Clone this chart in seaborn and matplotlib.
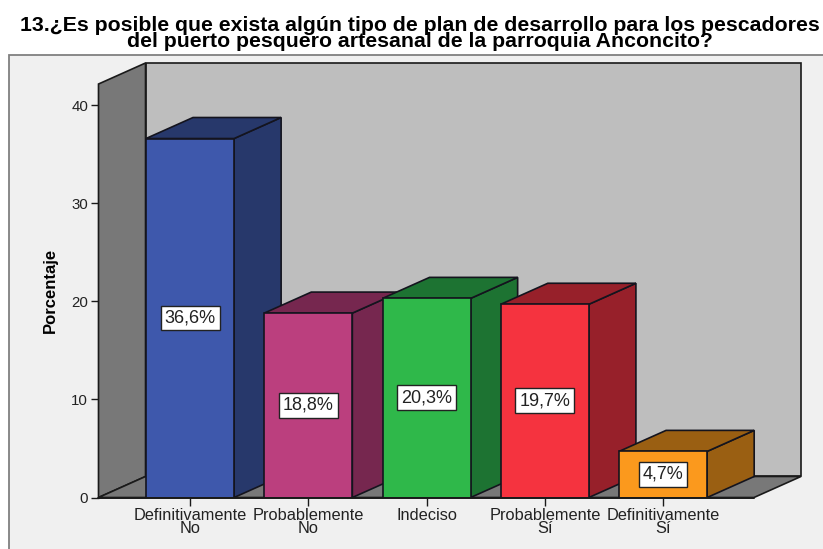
import matplotlib
matplotlib.use("Agg")
import matplotlib.pyplot as plt
from matplotlib.patches import Polygon, Rectangle
import seaborn as sns

categorias = ["Definitivamente\nNo", "Probablemente\nNo", "Indeciso", "Probablemente\nSí", "Definitivamente\nSí"]
porcentajes = [36.6, 18.8, 20.3, 19.7, 4.7]
etiquetas = ["36,6%", "18,8%", "20,3%", "19,7%", "4,7%"]
colores = ["#3e58ac", "#bb3f7e", "#2fb84a", "#f5333f", "#fb991d"]
colores_osc = ["#27386b", "#76274f", "#1d7332", "#97202a", "#9a5f12"]
ticks_y = [0, 10, 20, 30, 40]
titulo = ("13.¿Es posible que exista algún tipo de plan de desarrollo para los pescadores\n"
          "del puerto pesquero artesanal de la parroquia Anconcito?")

W, H = 823, 549
sns.set_theme(style="white")
plt.rcParams["font.family"] = ["Liberation Sans", "DejaVu Sans"]

fig = plt.figure(figsize=(W / 100, H / 100), dpi=100, facecolor="white")

# fondo gris con borde, se corta en el borde de la imagen
fondo = Rectangle((8.5 / W, -0.02), 1.02, (549 - 55) / H + 0.02, transform=fig.transFigure,
                  facecolor="#f0f0f0", edgecolor="#808080", linewidth=1.3, zorder=-5)
fig.add_artist(fondo)

ax = fig.add_axes([98.5 / W, (H - 497.5) / H, (801 - 98.5) / W, (497.5 - 63) / H])
ax.patch.set_visible(False)

sns.barplot(x=categorias, y=porcentajes, hue=categorias, palette=colores, width=0.745,
            edgecolor="#14141e", linewidth=1.2, legend=False, saturation=1, ax=ax)

x_izq, x_der = -0.774, 5.166
y_top = 44.3
dx, dy = 0.3976, 2.143
ax.set_xlim(x_izq, x_der)
ax.set_ylim(0, y_top)
borde = "#1a1a1a"

barras = list(ax.patches[:5])

# paredes y piso
ax.add_patch(Polygon([(x_izq + dx, dy), (x_der, dy), (x_der, y_top), (x_izq + dx, y_top)],
                     facecolor="#bebebe", edgecolor=borde, linewidth=1.2, zorder=0.5, clip_on=False))
ax.add_patch(Polygon([(x_izq, 0), (x_izq + dx, dy), (x_izq + dx, y_top), (x_izq, y_top - dy)],
                     facecolor="#787878", edgecolor=borde, linewidth=1.2, zorder=0.6, clip_on=False))
ax.add_patch(Polygon([(x_izq, 0), (x_izq + dx, dy), (x_der, dy), (x_der - dx, 0)],
                     facecolor="#787878", edgecolor=borde, linewidth=1.2, zorder=0.7, clip_on=False))

# caras laterales y superiores de cada barra
for i, bar in enumerate(barras):
    x0 = bar.get_x()
    x1 = x0 + bar.get_width()
    h = bar.get_height()
    z = 2 + i
    bar.set_zorder(z + 0.5)
    ax.add_patch(Polygon([(x1, 0), (x1 + dx, dy), (x1 + dx, h + dy), (x1, h)],
                         facecolor=colores_osc[i], edgecolor="#14141e", linewidth=1.2, zorder=z))
    ax.add_patch(Polygon([(x0, h), (x0 + dx, h + dy), (x1 + dx, h + dy), (x1, h)],
                         facecolor=colores_osc[i], edgecolor="#14141e", linewidth=1.2, zorder=z))
    ax.text(i, h / 2, etiquetas[i], ha="center", va="center", fontsize=13, color="#222222", zorder=20,
            bbox=dict(boxstyle="square,pad=0.22", facecolor="white", edgecolor="#222222", linewidth=1))

sns.despine(ax=ax, left=True, bottom=True, top=True, right=True)
ax.plot([x_izq, x_der - dx], [0, 0], color=borde, linewidth=1.4, zorder=30, clip_on=False)

ax.set_yticks(ticks_y)
ax.set_xticks(range(5))
ax.set_xticklabels(categorias, fontsize=11.8, color="#222222", linespacing=0.8)
ax.tick_params(axis="x", bottom=True, length=5.5, width=1, color=borde, pad=2)
ax.tick_params(axis="y", left=True, length=6, width=1, color=borde, labelsize=10.8, labelcolor="#222222", pad=1.5)

ax.set_ylabel("Porcentaje", fontsize=12, fontweight="bold", color="black", labelpad=0)
ax.yaxis.set_label_coords((58 - 98.5) / (801 - 98.5), (497.5 - 290) / (497.5 - 63))

fig.text(420 / W, (H - 33.5) / H, titulo, ha="center", va="center", fontsize=15.35, fontweight="bold",
         color="black", linespacing=0.8)

fig.savefig("out.png", dpi=100)
